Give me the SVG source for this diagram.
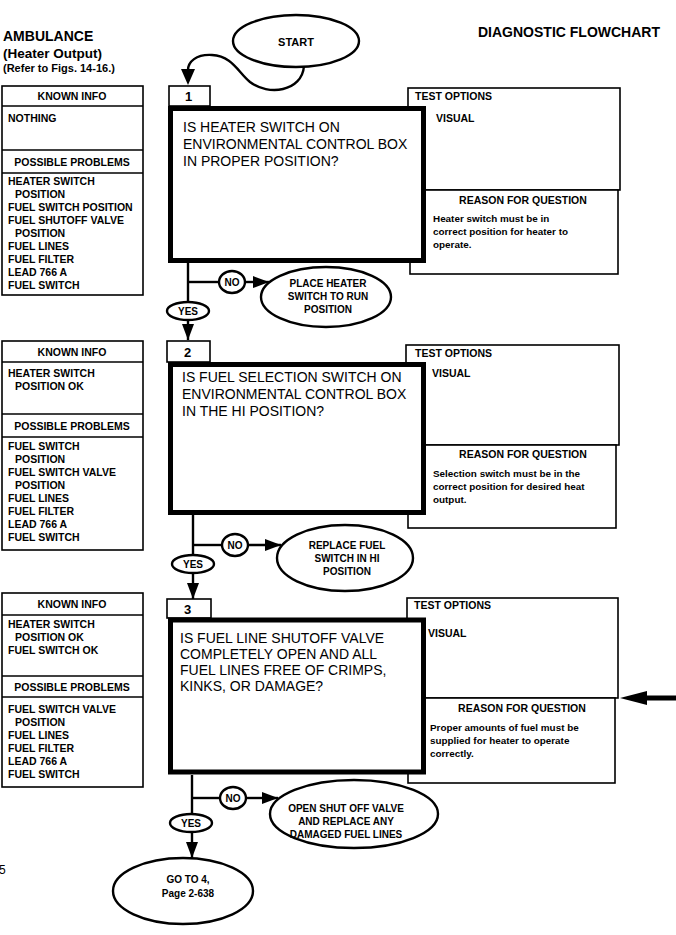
<svg xmlns="http://www.w3.org/2000/svg" width="676" height="935" viewBox="0 0 676 935">
<style>
text{font-family:"Liberation Sans",Arial,Helvetica,sans-serif;fill:#000}
.h{font-weight:bold;font-size:14px}
.q{font-size:14px}
.b{font-weight:bold;font-size:10.5px}
.bc{font-weight:bold;font-size:10.5px;text-anchor:middle}
.r{font-weight:bold;font-size:9.9px}
.n{font-weight:bold;font-size:13px}
.thin{fill:#fff;stroke:#000;stroke-width:1.6}
.thick{fill:#fff;stroke:#000;stroke-width:5}
.ln{fill:none;stroke:#000;stroke-width:2.4}
.ov{fill:#fff;stroke:#000;stroke-width:2.4}
</style>
<defs>
<marker id="ah" viewBox="0 0 16 12" refX="16" refY="6" markerWidth="16" markerHeight="12" orient="auto" markerUnits="userSpaceOnUse">
<path d="M0,0 L16,6 L0,12 z" fill="#000"/>
</marker>
</defs>

<g id="header">
<text class="h" x="3" y="41">AMBULANCE</text>
<text class="h" x="3" y="58" style="font-size:13.5px">(Heater Output)</text>
<text class="h" x="3" y="72" style="font-size:11px">(Refer to Figs. 14-16.)</text>
<text class="h" x="478" y="37">DIAGNOSTIC FLOWCHART</text>
<text x="-1" y="874" style="font-size:12px">5</text>
</g>

<g id="start">
<ellipse class="ov" cx="296" cy="41" rx="63" ry="26"/>
<text class="bc" x="296" y="46" style="font-size:11px">START</text>
</g>

<!-- Step 1 -->
<g id="known1">
<rect class="thin" x="2" y="86" width="141" height="209"/>
<line class="thin" x1="2" y1="106" x2="143" y2="106"/>
<line class="thin" x1="2" y1="150" x2="143" y2="150"/>
<line class="thin" x1="2" y1="173" x2="143" y2="173"/>
<text class="bc" x="72" y="100">KNOWN INFO</text>
<text class="b" x="8" y="122">NOTHING</text>
<text class="bc" x="72" y="166">POSSIBLE PROBLEMS</text>
<text class="b" x="8" y="185">HEATER SWITCH</text>
<text class="b" x="15" y="198">POSITION</text>
<text class="b" x="8" y="211">FUEL SWITCH POSITION</text>
<text class="b" x="8" y="224">FUEL SHUTOFF VALVE</text>
<text class="b" x="15" y="237">POSITION</text>
<text class="b" x="8" y="250">FUEL LINES</text>
<text class="b" x="8" y="263">FUEL FILTER</text>
<text class="b" x="8" y="276">LEAD 766 A</text>
<text class="b" x="8" y="289">FUEL SWITCH</text>
</g>
<g id="options1">
<rect class="thin" x="408" y="88" width="212" height="102"/>
<rect class="thin" x="410" y="190" width="208" height="84"/>
<text class="b" x="415" y="100">TEST OPTIONS</text>
<text class="b" x="436" y="122">VISUAL</text>
<text class="bc" x="523" y="204">REASON FOR QUESTION</text>
<text class="r" x="433" y="222">Heater switch must be in</text>
<text class="r" x="433" y="235">correct position for heater to</text>
<text class="r" x="433" y="248">operate.</text>
</g>
<g id="step1">
<rect class="thin" x="169" y="86" width="41" height="20"/>
<text class="n" x="185" y="101">1</text>
<rect class="thick" x="170.5" y="108.5" width="253" height="152"/>
<text class="q" x="183" y="132">IS HEATER SWITCH ON</text>
<text class="q" x="183" y="149">ENVIRONMENTAL CONTROL BOX</text>
<text class="q" x="183" y="166">IN PROPER POSITION?</text>
</g>
<g id="no1">
<ellipse class="ov" cx="326" cy="297" rx="65" ry="30"/>
<text class="bc" x="328" y="287" style="font-size:10px">PLACE HEATER</text>
<text class="bc" x="328" y="300" style="font-size:10px">SWITCH TO RUN</text>
<text class="bc" x="328" y="313" style="font-size:10px">POSITION</text>
</g>

<!-- Step 2 -->
<g id="known2">
<rect class="thin" x="2" y="341" width="141" height="209"/>
<line class="thin" x1="2" y1="362" x2="143" y2="362"/>
<line class="thin" x1="2" y1="414" x2="143" y2="414"/>
<line class="thin" x1="2" y1="437" x2="143" y2="437"/>
<text class="bc" x="72" y="356">KNOWN INFO</text>
<text class="b" x="8" y="377">HEATER SWITCH</text>
<text class="b" x="15" y="390">POSITION OK</text>
<text class="bc" x="72" y="430">POSSIBLE PROBLEMS</text>
<text class="b" x="8" y="450">FUEL SWITCH</text>
<text class="b" x="15" y="463">POSITION</text>
<text class="b" x="8" y="476">FUEL SWITCH VALVE</text>
<text class="b" x="15" y="489">POSITION</text>
<text class="b" x="8" y="502">FUEL LINES</text>
<text class="b" x="8" y="515">FUEL FILTER</text>
<text class="b" x="8" y="528">LEAD 766 A</text>
<text class="b" x="8" y="541">FUEL SWITCH</text>
</g>
<g id="options2">
<rect class="thin" x="406" y="345" width="213" height="100"/>
<rect class="thin" x="408" y="445" width="208" height="83"/>
<text class="b" x="415" y="357">TEST OPTIONS</text>
<text class="b" x="432" y="377">VISUAL</text>
<text class="bc" x="523" y="458">REASON FOR QUESTION</text>
<text class="r" x="433" y="477">Selection switch must be in  the</text>
<text class="r" x="433" y="490">correct position for desired heat</text>
<text class="r" x="433" y="503">output.</text>
</g>
<g id="step2">
<rect class="thin" x="167" y="341" width="43" height="21"/>
<text class="n" x="184" y="357">2</text>
<rect class="thick" x="170.5" y="364.5" width="253" height="148"/>
<text class="q" x="182" y="382">IS FUEL SELECTION SWITCH ON</text>
<text class="q" x="182" y="399">ENVIRONMENTAL CONTROL BOX</text>
<text class="q" x="182" y="416">IN THE HI POSITION?</text>
</g>
<g id="no2">
<ellipse class="ov" cx="345" cy="558" rx="68" ry="33"/>
<text class="bc" x="347" y="549" style="font-size:10px">REPLACE FUEL</text>
<text class="bc" x="347" y="562" style="font-size:10px">SWITCH IN HI</text>
<text class="bc" x="347" y="575" style="font-size:10px">POSITION</text>
</g>

<!-- Step 3 -->
<g id="known3">
<rect class="thin" x="2" y="593" width="141" height="194"/>
<line class="thin" x1="2" y1="615" x2="143" y2="615"/>
<line class="thin" x1="2" y1="676" x2="143" y2="676"/>
<line class="thin" x1="2" y1="697" x2="143" y2="697"/>
<text class="bc" x="72" y="608">KNOWN INFO</text>
<text class="b" x="8" y="628">HEATER SWITCH</text>
<text class="b" x="15" y="641">POSITION OK</text>
<text class="b" x="8" y="654">FUEL SWITCH OK</text>
<text class="bc" x="72" y="691">POSSIBLE PROBLEMS</text>
<text class="b" x="8" y="713">FUEL SWITCH VALVE</text>
<text class="b" x="15" y="726">POSITION</text>
<text class="b" x="8" y="739">FUEL LINES</text>
<text class="b" x="8" y="752">FUEL FILTER</text>
<text class="b" x="8" y="765">LEAD 766 A</text>
<text class="b" x="8" y="778">FUEL SWITCH</text>
</g>
<g id="options3">
<rect class="thin" x="407" y="598" width="211" height="100"/>
<rect class="thin" x="408" y="698" width="207" height="85"/>
<text class="b" x="414" y="609">TEST OPTIONS</text>
<text class="b" x="428" y="637">VISUAL</text>
<text class="bc" x="522" y="712">REASON FOR QUESTION</text>
<text class="r" x="430" y="731">Proper amounts of fuel must be</text>
<text class="r" x="430" y="744">supplied for heater to operate</text>
<text class="r" x="430" y="757">correctly.</text>
</g>
<g id="step3">
<rect class="thin" x="167" y="599" width="44" height="19"/>
<text class="n" x="184" y="614">3</text>
<rect class="thick" x="170.5" y="620" width="253" height="152"/>
<text class="q" x="180" y="643">IS FUEL LINE SHUTOFF VALVE</text>
<text class="q" x="180" y="659">COMPLETELY OPEN AND ALL</text>
<text class="q" x="180" y="675">FUEL LINES FREE OF CRIMPS,</text>
<text class="q" x="180" y="691">KINKS, OR DAMAGE?</text>
</g>
<g id="no3">
<ellipse class="ov" cx="354" cy="814" rx="84" ry="34"/>
<text class="bc" x="346" y="812" style="font-size:10px">OPEN SHUT OFF VALVE</text>
<text class="bc" x="346" y="825" style="font-size:10px">AND REPLACE ANY</text>
<text class="bc" x="346" y="838" style="font-size:10px">DAMAGED FUEL LINES</text>
</g>
<g id="goto4">
<ellipse class="ov" cx="183" cy="891" rx="70" ry="33"/>
<text class="bc" x="188" y="883" style="font-size:10px">GO TO 4,</text>
<text class="bc" x="188" y="897" style="font-size:10px">Page 2-638</text>
</g>

<g id="connectors">
<path class="ln" d="M304 66 C302 92 268 96 250 82 C238 72 232 56 212 55 C196 54 188 62 188 70" />
<path d="M181 69 L195 69 L188 85 z" fill="#000"/>

<line class="ln" x1="188" y1="263" x2="188" y2="302"/>
<line class="ln" x1="188" y1="282" x2="219" y2="282"/>
<line class="ln" x1="245" y1="282" x2="269" y2="282" marker-end="url(#ah)"/>
<ellipse class="ov" cx="232" cy="282" rx="13" ry="11"/>
<text class="bc" x="232" y="286" style="font-size:10px">NO</text>
<line class="ln" x1="188" y1="320" x2="188" y2="340" marker-end="url(#ah)"/>
<ellipse class="ov" cx="188" cy="311" rx="21" ry="9"/>
<text class="bc" x="188" y="315" style="font-size:10px">YES</text>

<line class="ln" x1="193" y1="515" x2="193" y2="555"/>
<line class="ln" x1="193" y1="545" x2="222" y2="545"/>
<line class="ln" x1="248" y1="545" x2="281" y2="545" marker-end="url(#ah)"/>
<ellipse class="ov" cx="235" cy="545" rx="13" ry="11"/>
<text class="bc" x="235" y="549" style="font-size:10px">NO</text>
<line class="ln" x1="193" y1="573" x2="193" y2="599" marker-end="url(#ah)"/>
<ellipse class="ov" cx="193" cy="564" rx="21" ry="9"/>
<text class="bc" x="193" y="568" style="font-size:10px">YES</text>

<line class="ln" x1="192" y1="775" x2="192" y2="815"/>
<line class="ln" x1="192" y1="798" x2="220" y2="798"/>
<line class="ln" x1="246" y1="798" x2="278" y2="798" marker-end="url(#ah)"/>
<ellipse class="ov" cx="233" cy="798" rx="13" ry="11"/>
<text class="bc" x="233" y="802" style="font-size:10px">NO</text>
<line class="ln" x1="192" y1="832" x2="192" y2="858" marker-end="url(#ah)"/>
<ellipse class="ov" cx="191" cy="823" rx="21" ry="9"/>
<text class="bc" x="191" y="827" style="font-size:10px">YES</text>

<rect x="644" y="695.5" width="32" height="5" fill="#000"/>
<path d="M620 698 L647 691 L647 705 z" fill="#000"/>
</g>
</svg>
